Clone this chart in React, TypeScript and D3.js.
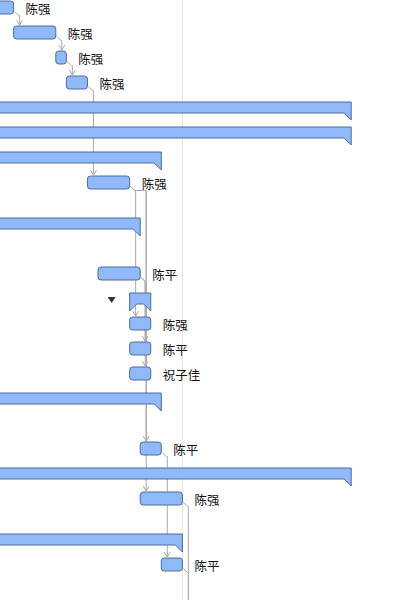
import * as d3 from "d3";

// rows of the gantt, top to bottom (the view is scrolled, so some rows start above / end below)
const taskNames = ["陈强", "陈强", "陈强", "陈强", "", "", "", "陈强", "", "陈平", "", "陈强", "陈平", "祝子佳", "", "陈平", "", "陈强", "", "陈平", "陈强"];
const taskKinds = ["task", "task", "task", "task", "summary", "summary", "summary", "task", "summary", "task", "summary", "task", "task", "task", "summary", "task", "summary", "task", "summary", "task", "task"];
const startDates = ["2023-03-30", "2023-04-03", "2023-04-07", "2023-04-08", "2023-03-01", "2023-03-01", "2023-03-01", "2023-04-10", "2023-03-20", "2023-04-11", "2023-04-14", "2023-04-14", "2023-04-14", "2023-04-14", "2023-03-20", "2023-04-15", "2023-03-01", "2023-04-15", "2023-03-20", "2023-04-17", "2023-04-19"];
const endDates = ["2023-04-03", "2023-04-07", "2023-04-08", "2023-04-10", "2023-05-05", "2023-05-05", "2023-04-17", "2023-04-14", "2023-04-15", "2023-04-15", "2023-04-16", "2023-04-16", "2023-04-16", "2023-04-16", "2023-04-17", "2023-04-17", "2023-05-05", "2023-04-19", "2023-04-19", "2023-04-19", "2023-04-21"];
const rowLines = [1, 1, 1, 1, 1, 1, 1, 2, 3, 1, 1, 1, 1, 1, 3, 1, 1, 2, 1, 3, 1]; // wrapped lines in the grid
const collapsedRows = [10];
const links = [[0, 1], [1, 2], [2, 3], [3, 7], [7, 11], [7, 15], [7, 17], [9, 12], [9, 13], [15, 19], [17, 20], [19, 20]];
const todayDate = "2023-04-19";

const W = 413;
const H = 600;
const scrollTop = -5;
const barH = 13;
const sumH = 11;
const tip = 7;

const fill = "#8fb9f8";
const stroke = "#4d6c9c";
const linkColor = "#a9a9a9";

export default function App() {
    const parse = d3.utcParse("%Y-%m-%d");

    const x = d3.scaleUtc()
        .domain([parse("2023-04-03")!, parse("2023-05-05")!])
        .range([13.6, 351.2]);

    const rowHeight = d3.scaleOrdinal<number, number>().domain([1, 2, 3]).range([25, 41, 50]);
    const tops = [scrollTop, ...Array.from(d3.cumsum(rowLines, (l) => rowHeight(l))).map((v) => v + scrollTop)];
    const yc = (i: number) => tops[i] + 12.5;

    const rows = taskNames.map((name, i) => ({
        name,
        kind: taskKinds[i],
        x0: x(parse(startDates[i])!),
        x1: x(parse(endDates[i])!),
        cy: yc(i),
        collapsed: collapsedRows.includes(i),
    }));

    const linkPaths = links.map(([a, b]) => {
        const p = rows[a];
        const s = rows[b];
        const xv = Math.max(p.x1 + 5, s.x0 + 6);
        const yj = p.cy + 8;
        const yt = s.cy - barH / 2 - 1;
        return {
            d: `M${p.x1 + 1},${p.cy + 4}L${p.x1 + 5},${yj}H${xv}V${yt}`,
            arrow: `M${xv - 3},${yt - 5}L${xv},${yt}L${xv + 3},${yt - 5}`,
        };
    });

    const summaryShape = (r: typeof rows[number]) => {
        const t = r.cy - sumH / 2;
        const b = r.cy + sumH / 2;
        return `M${r.x0},${t}H${r.x1}V${b + tip}L${r.x1 - tip},${b}H${r.x0 + tip}L${r.x0},${b + tip}Z`;
    };

    const todayX = x(parse(todayDate)!);

    return (
        <svg width={W} height={H} style={{ position: "absolute", left: 0, top: 0, background: "#fff" }}
            fontFamily="'Noto Sans CJK SC', 'Noto Sans', sans-serif">
            <line x1={todayX} x2={todayX} y1={0} y2={H} stroke="#e4e4e4" strokeWidth={1} />
            <g fill="none" stroke={linkColor} strokeWidth={1}>
                {linkPaths.map((l, i) => (
                    <g key={i}>
                        <path d={l.d} />
                        <path d={l.arrow} />
                    </g>
                ))}
            </g>
            {rows.map((r, i) => r.kind === "summary" ? (
                <g key={i}>
                    <path d={summaryShape(r)} fill={fill} stroke={stroke} strokeWidth={1} />
                    {r.collapsed && (
                        <path d={`M${r.x0 - 22},${r.cy - 1.5}h8l-4,6z`} fill="#333" />
                    )}
                </g>
            ) : (
                <g key={i}>
                    <rect x={r.x0} y={r.cy - barH / 2} width={r.x1 - r.x0} height={barH} rx={3}
                        fill={fill} stroke={stroke} strokeWidth={1} />
                    {r.cy - barH / 2 < H && (
                        <text x={r.x1 + 12} y={r.cy + 0.5} dominantBaseline="central" fontSize={12.5} fill="#111">{r.name}</text>
                    )}
                </g>
            ))}
        </svg>
    );
}
